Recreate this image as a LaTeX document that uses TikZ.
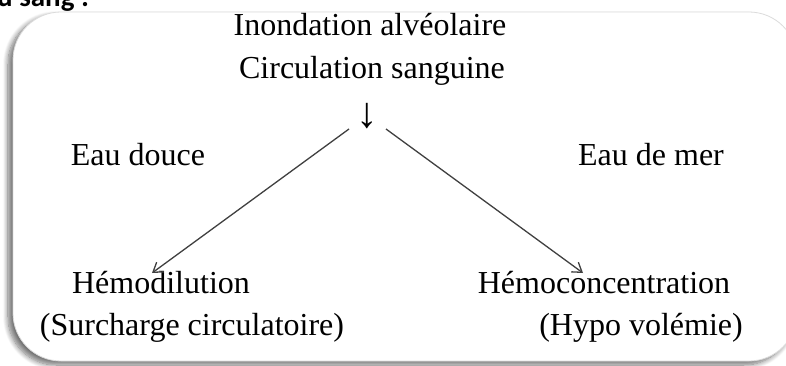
\documentclass[tikz,border=0pt]{standalone}
\usepackage{fontspec}
\setmainfont{Liberation Serif}
\newfontfamily\headfont{Carlito}
\usetikzlibrary{arrows.meta,calc,shadows.blur}
\tikzset{
  txt/.style={font=\fontsize{32}{38}\selectfont, inner sep=0pt, anchor=base},
  sig/.style={-{Straight Barb[length=9pt,width=12pt]}, line width=1.3pt, draw=black!75},
  frame/.style={draw=black!14, line width=0.8pt, fill=white, rounded corners=48pt,
                blur shadow={shadow xshift=-5pt, shadow yshift=-4pt, shadow blur steps=10,
                             shadow blur radius=5pt, shadow opacity=55}},
}

\begin{document}
\begin{tikzpicture}[x=1pt, y=-1pt]
    \useasboundingbox (0,0) rectangle (786,366);
    \node[font=\headfont\bfseries\fontsize{29}{34}\selectfont, inner sep=0pt, anchor=base west] (head) at (-3,7) {u sang :};
    \path[frame] (13,12) rectangle (797,361);
    \node[txt] (inond) at (370,36) {Inondation alvéolaire};
    \node[txt] (circ) at (372,79) {Circulation sanguine};
    \node[txt, font=\fontsize{43}{48}\selectfont] (dn) at (367,128) {↓};
    \node[txt] (douce) at (138,165) {Eau douce};
    \node[txt] (mer) at (651,165) {Eau de mer};
    \node[txt] (hemod) at (161,293) {Hémodilution};
    \node[txt] (surch) at (192,335) {(Surcharge circulatoire)};
    \node[txt] (hemoc) at (604,293) {Hémoconcentration};
    \node[txt] (hypo) at (641,335) {(Hypo volémie)};
    \draw[sig] ($(dn.base)+(-18,1)$) -- ($(hemod.base)+(-9,-20)$);
    \draw[sig] ($(dn.base)+(19,1)$) -- ($(hemoc.base)+(-21,-20)$);
  \end{tikzpicture}
\end{document}
